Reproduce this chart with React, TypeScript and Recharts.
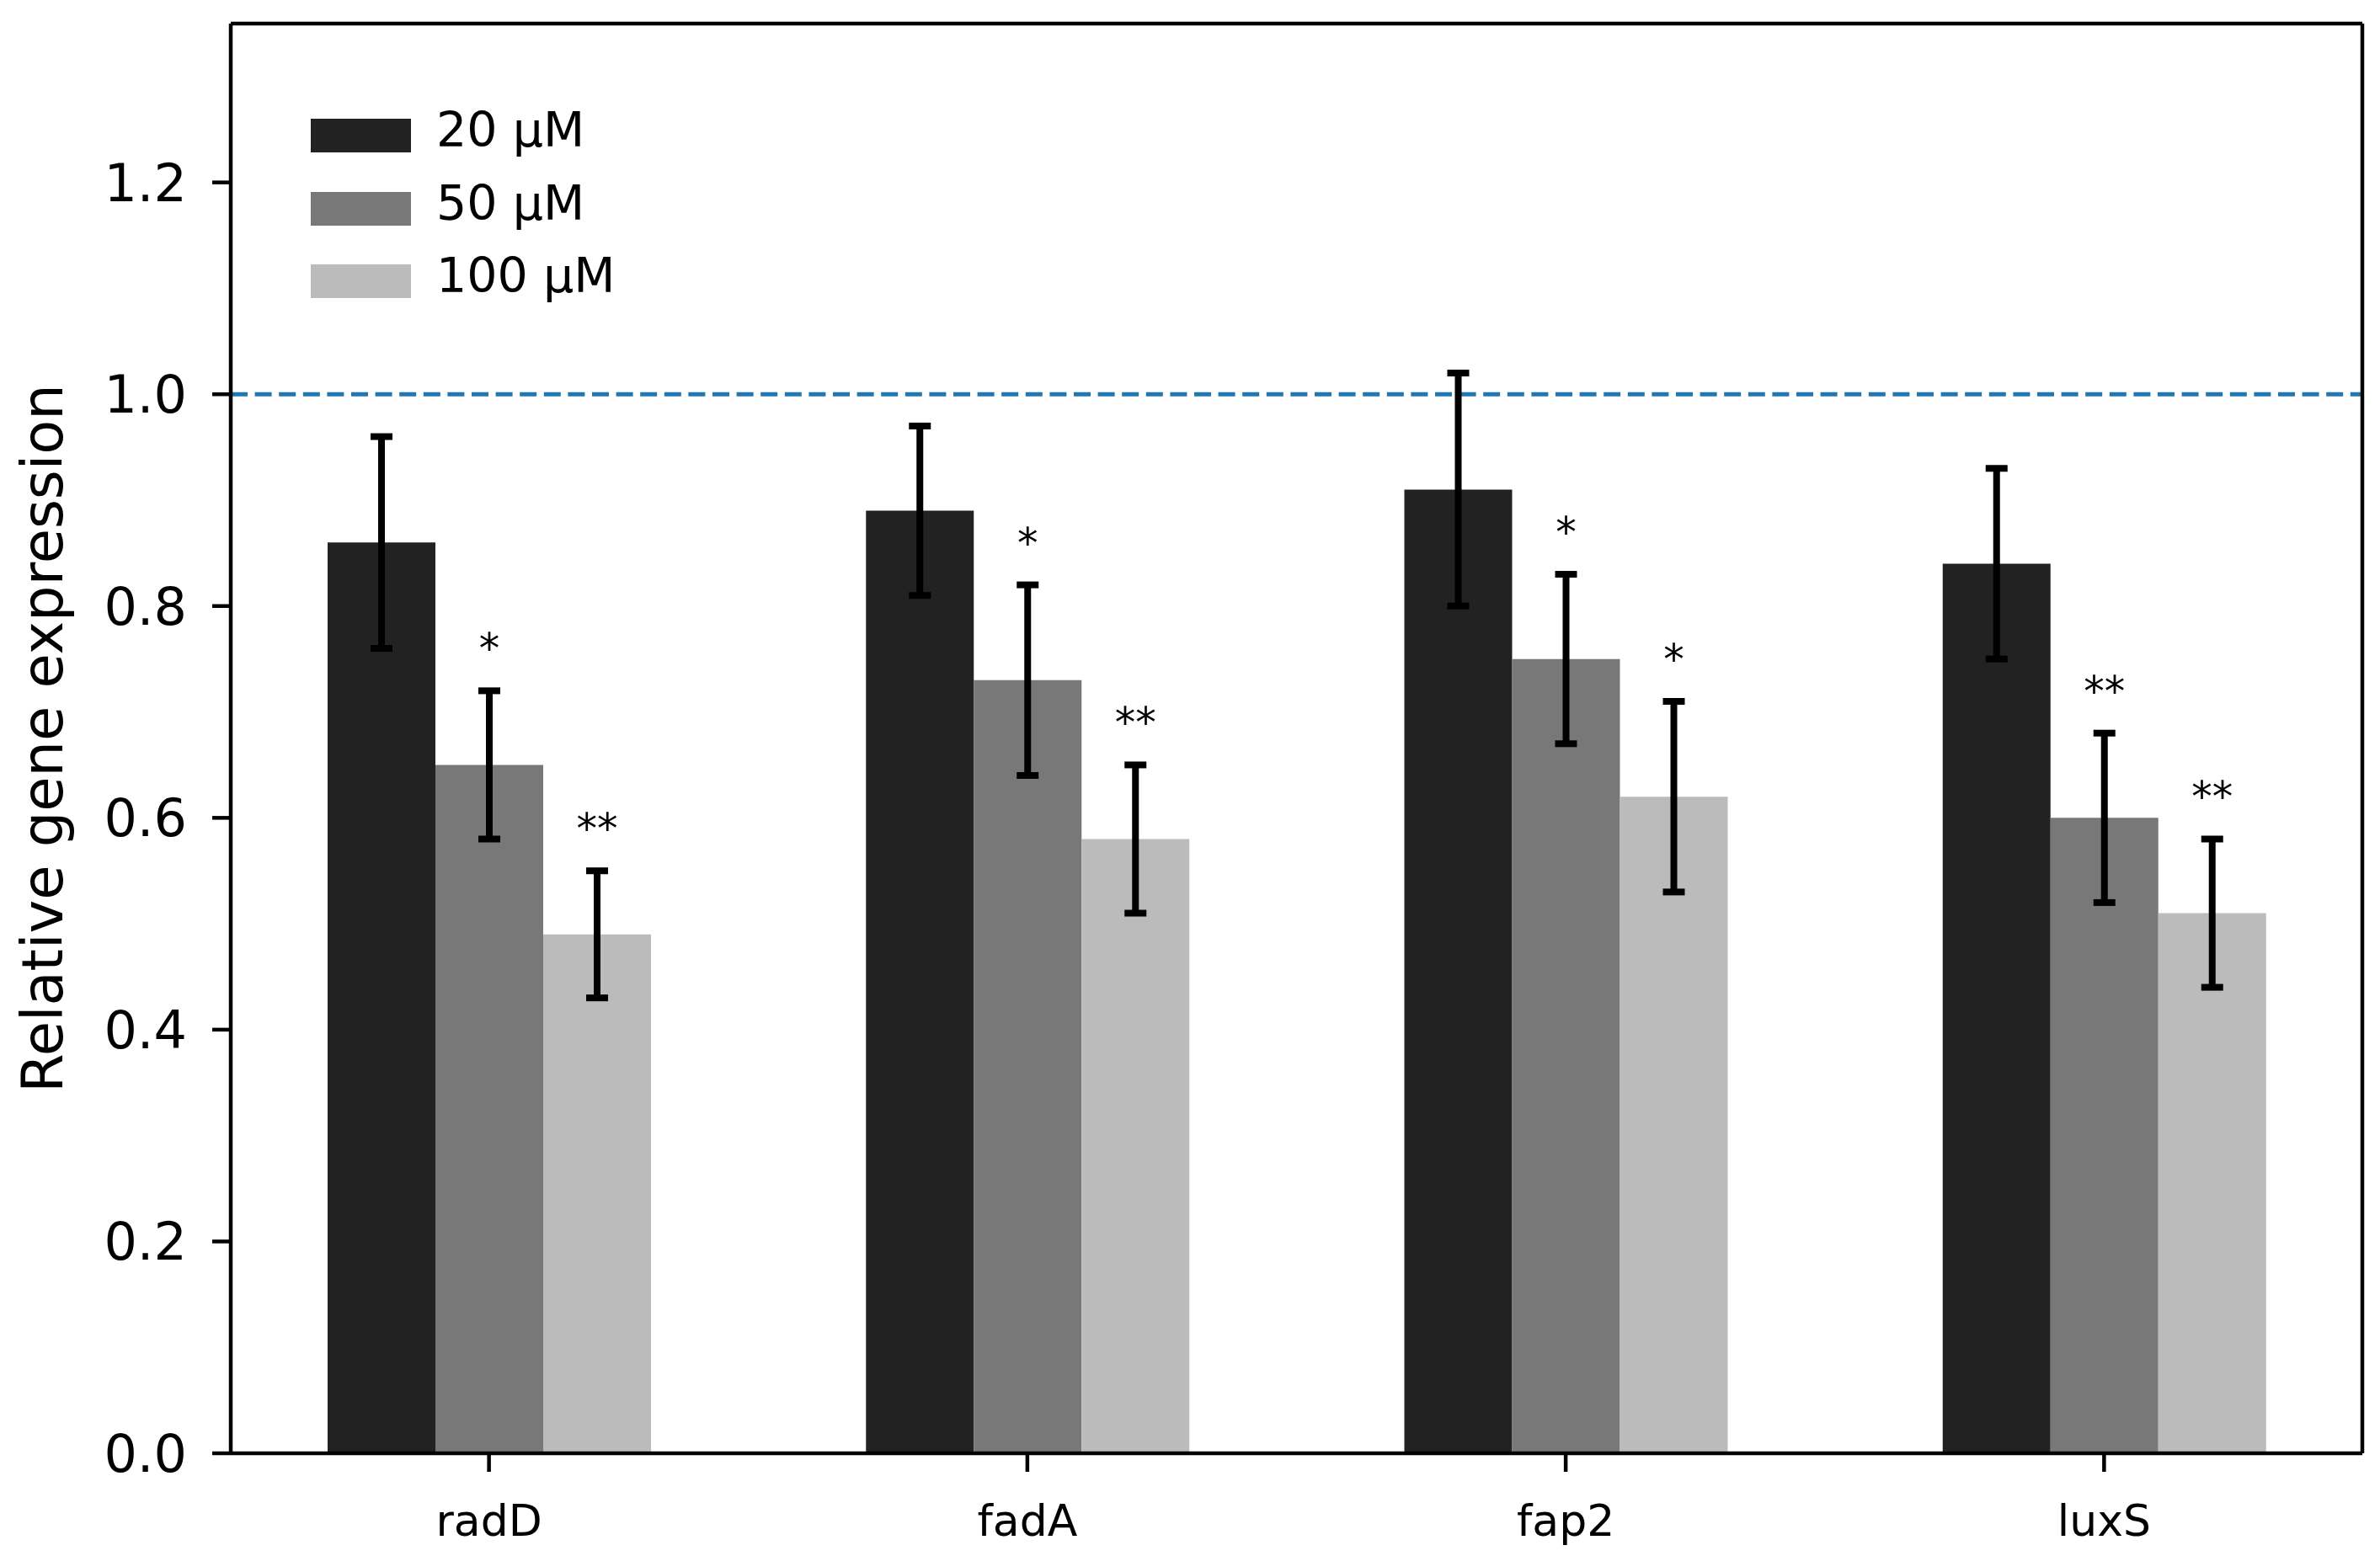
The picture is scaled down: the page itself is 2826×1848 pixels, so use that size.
import React from "react";
import {
  BarChart, Bar, XAxis, YAxis, ErrorBar, ReferenceLine, LabelList, Legend,
} from "recharts";

const genes = ["radD", "fadA", "fap2", "luxS"];
const seriesNames = ["20 μM", "50 μM", "100 μM"];
const mean20 = [0.86, 0.89, 0.91, 0.84];
const err20 = [0.10, 0.08, 0.11, 0.09];
const mean50 = [0.65, 0.73, 0.75, 0.60];
const err50 = [0.07, 0.09, 0.08, 0.08];
const mean100 = [0.49, 0.58, 0.62, 0.51];
const err100 = [0.06, 0.07, 0.09, 0.07];
const sig50 = ["*", "*", "*", "**"];
const sig100 = ["**", "**", "*", "**"];
const yTicks = [0, 0.2, 0.4, 0.6, 0.8, 1.0, 1.2];

const FONT = "'DejaVu Sans', sans-serif";
const COLORS = { c20: "#222222", c50: "#787878", c100: "#bbbbbb" };

const data = genes.map((g, i) => ({
  gene: g,
  m20: mean20[i], e20: err20[i],
  m50: mean50[i], e50: err50[i],
  m100: mean100[i], e100: err100[i],
}));

// asterisks sit above the top of each error bar
const sigLabel = (marks: string[], means: number[], errs: number[]) => (p: any) => {
  const { x, y, width, height, index } = p;
  const pxPerUnit = height / means[index];
  const errTop = y - errs[index] * pxPerUnit;
  return (
    <text x={x + width / 2} y={errTop - 33} textAnchor="middle" fontSize={49} fontFamily={FONT} fill="#000">
      {marks[index]}
    </text>
  );
};

const renderLegend = (props: any) => {
  const items = [...(props.payload || [])].sort(
    (a: any, b: any) => seriesNames.indexOf(a.value) - seriesNames.indexOf(b.value)
  );
  return (
    <div style={{ fontFamily: FONT }}>
      {items.map((entry: any) => (
        <div key={entry.value} style={{ display: "flex", alignItems: "center", height: 86.5 }}>
          <div style={{ width: 119, height: 40, background: entry.color }} />
          <span style={{ marginLeft: 30, fontSize: 57, color: "#000", transform: "translateY(-7px)" }}>
            {entry.value}
          </span>
        </div>
      ))}
    </div>
  );
};

const renderYLabel = (props: any) => {
  const { viewBox } = props;
  const cx = viewBox.x + 74;
  const cy = viewBox.y + viewBox.height / 2;
  return (
    <text x={cx} y={cy} transform={`rotate(-90, ${cx}, ${cy})`} textAnchor="middle"
      fontSize={67} fontFamily={FONT} fill="#000">
      Relative gene expression
    </text>
  );
};

const spine = { stroke: "#000", strokeWidth: 4.5 };

export default function App() {
  return (
    <div style={{ position: "absolute", left: 0, top: 0, width: 2826, height: 1848, background: "#fff", fontFamily: FONT }}>
      <BarChart width={2826} height={1848} data={data} barGap={0}
        margin={{ top: 27, right: 20, left: 0, bottom: 0 }}>
        <XAxis dataKey="gene" height={122} padding={{ left: -13, right: -13 }}
          axisLine={spine} tickLine={spine} tickSize={22} tickMargin={39}
          tick={{ fill: "#000", fontSize: 52, fontFamily: FONT }} />
        <XAxis xAxisId="top" orientation="top" dataKey="gene" height={1}
          axisLine={spine} tick={false} tickLine={false} />
        <YAxis width={274} domain={[0, 1.35]} ticks={yTicks} allowDataOverflow
          tickFormatter={(v) => v.toFixed(1)}
          axisLine={spine} tickLine={spine} tickSize={22} tickMargin={30}
          tick={{ fill: "#000", fontSize: 62, fontFamily: FONT }}
          label={{ content: renderYLabel }} />
        <YAxis yAxisId="right" orientation="right" width={1} domain={[0, 1.35]}
          axisLine={spine} tick={false} tickLine={false} />
        <Legend layout="horizontal" verticalAlign="middle" align="center"
          content={renderLegend}
          wrapperStyle={{ left: 369, top: 118, width: 400 }} />
        <ReferenceLine y={1} stroke="#1f77b4" strokeWidth={5} strokeDasharray="20 8.6" />
        <Bar dataKey="m20" name={seriesNames[0]} fill={COLORS.c20} barSize={128} isAnimationActive={false}>
          <ErrorBar dataKey="e20" direction="y" width={13} strokeWidth={8} stroke="#000" />
        </Bar>
        <Bar dataKey="m50" name={seriesNames[1]} fill={COLORS.c50} barSize={128} isAnimationActive={false}>
          <ErrorBar dataKey="e50" direction="y" width={13} strokeWidth={8} stroke="#000" />
          <LabelList dataKey="m50" content={sigLabel(sig50, mean50, err50)} />
        </Bar>
        <Bar dataKey="m100" name={seriesNames[2]} fill={COLORS.c100} barSize={128} isAnimationActive={false}>
          <ErrorBar dataKey="e100" direction="y" width={13} strokeWidth={8} stroke="#000" />
          <LabelList dataKey="m100" content={sigLabel(sig100, mean100, err100)} />
        </Bar>
      </BarChart>
    </div>
  );
}
